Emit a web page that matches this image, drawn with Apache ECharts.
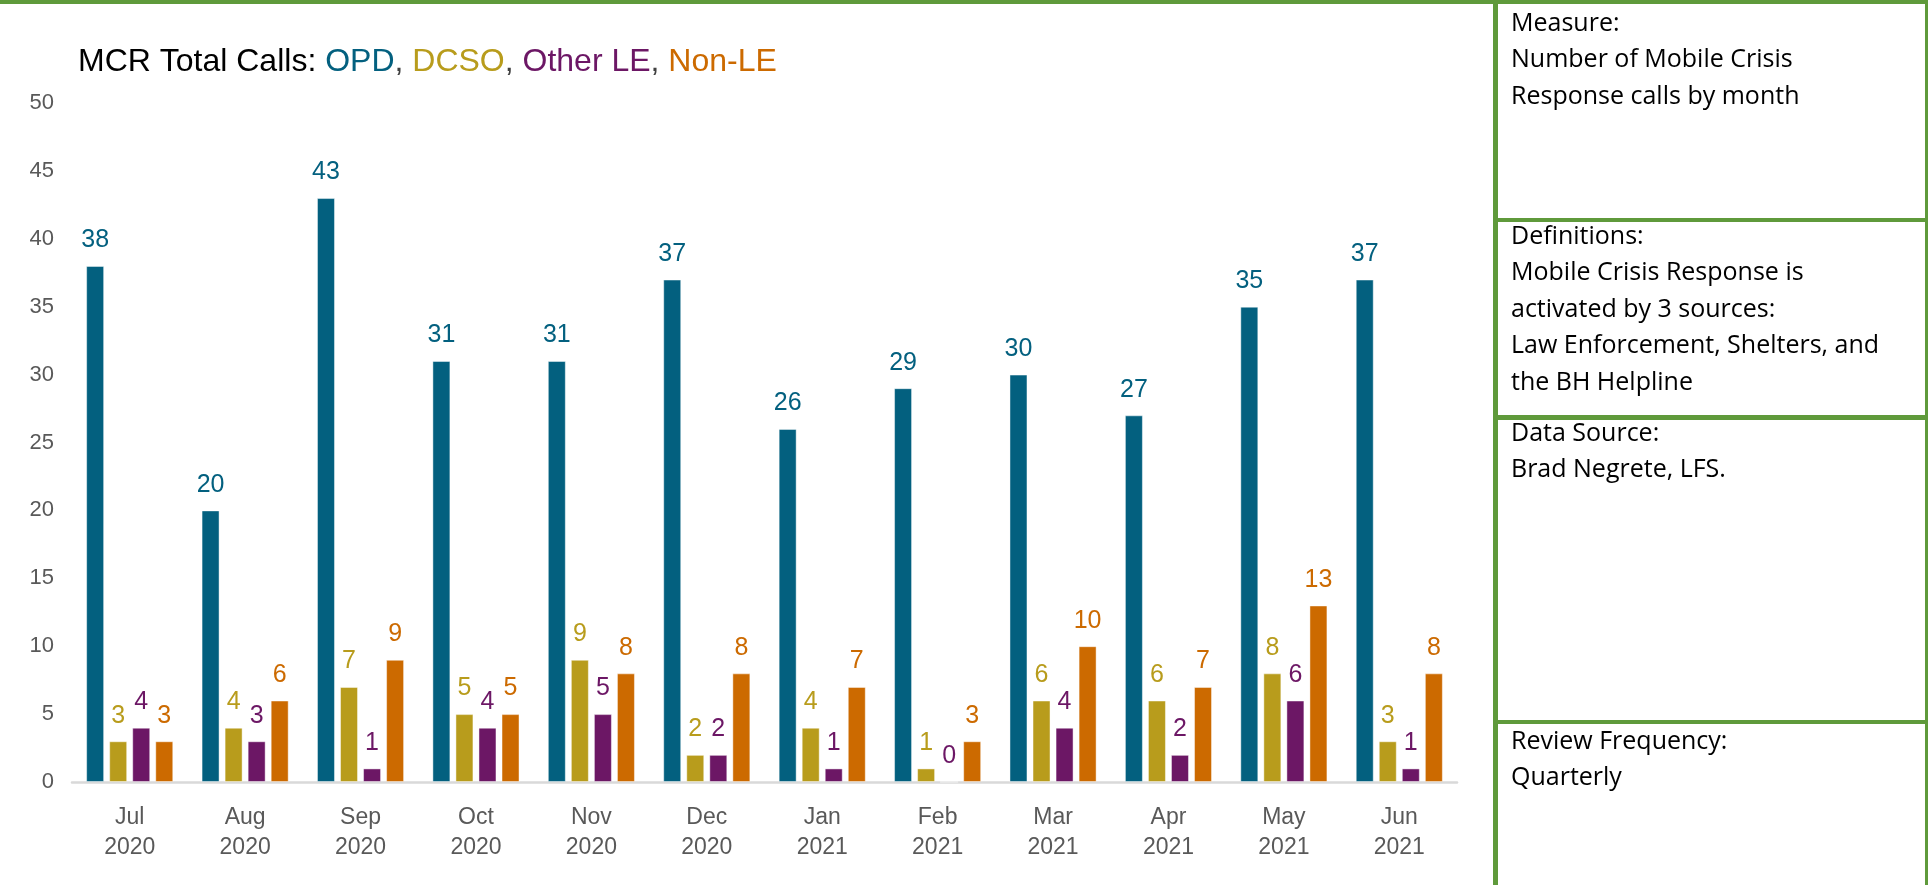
<!DOCTYPE html>
<html>
<head>
<meta charset="utf-8">
<script src="https://cdn.jsdelivr.net/npm/echarts@6/dist/echarts.min.js"></script>
<style>
  html, body { margin: 0; padding: 0; background: #fff; }
  #chart { width: 1928px; height: 885px; }
</style>
</head>
<body>
<div id="chart"></div>
<script>
// months on the x axis
const months = ['Jul', 'Aug', 'Sep', 'Oct', 'Nov', 'Dec', 'Jan', 'Feb', 'Mar', 'Apr', 'May', 'Jun'];
const years = ['2020', '2020', '2020', '2020', '2020', '2020', '2021', '2021', '2021', '2021', '2021', '2021'];

// calls by source
const opd = [38, 20, 43, 31, 31, 37, 26, 29, 30, 27, 35, 37];
const dcso = [3, 4, 7, 5, 9, 2, 4, 1, 6, 6, 8, 3];
const otherLE = [4, 3, 1, 4, 5, 2, 1, 0, 4, 2, 6, 1];
const nonLE = [3, 6, 9, 5, 8, 8, 7, 3, 10, 7, 13, 8];

const yTicks = [0, 5, 10, 15, 20, 25, 30, 35, 40, 45, 50];

const colors = { opd: '#03607F', dcso: '#B89C1C', other: '#6C1765', nonle: '#CC6A00' };
const green = '#5F9A3B';
const font = 'Liberation Sans';
const panelFont = 'Open Sans';

const chart = echarts.init(document.getElementById('chart'));

const barSeries = (name, data, color) => ({
  name,
  type: 'bar',
  data,
  barWidth: 18,
  barGap: '28%',
  itemStyle: { color, borderColor: 'rgba(255,255,255,0.45)', borderWidth: 1 },
  label: {
    show: true,
    position: 'top',
    distance: 13,
    color,
    fontFamily: font,
    fontSize: 25
  }
});

const panelText = (top, text) => ({
  type: 'text',
  left: 1511,
  top,
  style: { text, fontFamily: panelFont, fontSize: 25, lineHeight: 36.5, fill: '#000' }
});

const titleStyle = (color) => ({ color, fontFamily: font, fontSize: 32, fontWeight: 'normal' });

chart.setOption({
  animation: false,
  title: {
    left: 73,
    top: 41,
    text: '{k|MCR Total Calls: }{a|OPD}{s|, }{b|DCSO}{s|, }{c|Other LE}{s|, }{d|Non-LE}',
    textStyle: {
      fontWeight: 'normal',
      rich: {
        k: titleStyle('#000'),
        s: titleStyle('#404040'),
        a: titleStyle(colors.opd),
        b: titleStyle(colors.dcso),
        c: titleStyle(colors.other),
        d: titleStyle(colors.nonle)
      }
    }
  },
  grid: { left: 72, right: 471, top: 103, bottom: 103 },
  xAxis: {
    type: 'category',
    data: months.map((m, i) => m + '\n' + years[i]),
    axisLine: { lineStyle: { color: '#D9D9D9', width: 2.5 } },
    axisTick: { show: false },
    axisLabel: { color: '#595959', fontFamily: font, fontSize: 23, lineHeight: 30, margin: 21 }
  },
  yAxis: {
    type: 'value',
    min: yTicks[0],
    max: yTicks[yTicks.length - 1],
    interval: 5,
    splitLine: { show: false },
    axisLine: { show: false },
    axisTick: { show: false },
    axisLabel: { color: '#595959', fontFamily: font, fontSize: 22, margin: 18 }
  },
  series: [
    barSeries('OPD', opd, colors.opd),
    barSeries('DCSO', dcso, colors.dcso),
    barSeries('Other LE', otherLE, colors.other),
    barSeries('Non-LE', nonLE, colors.nonle)
  ],
  graphic: [
    // green frame
    { type: 'rect', shape: { x: 0, y: 0, width: 1928, height: 4 }, style: { fill: green } },
    { type: 'rect', shape: { x: 1493, y: 0, width: 5, height: 885 }, style: { fill: green } },
    { type: 'rect', shape: { x: 1925, y: 0, width: 3, height: 885 }, style: { fill: green } },
    { type: 'rect', shape: { x: 1493, y: 218, width: 435, height: 4 }, style: { fill: green } },
    { type: 'rect', shape: { x: 1493, y: 415, width: 435, height: 5 }, style: { fill: green } },
    { type: 'rect', shape: { x: 1493, y: 720, width: 435, height: 4 }, style: { fill: green } },
    panelText(5.5, 'Measure:\nNumber of Mobile Crisis\nResponse calls by month'),
    panelText(218.5, 'Definitions:\nMobile Crisis Response is\nactivated by 3 sources:\nLaw Enforcement, Shelters, and\nthe BH Helpline'),
    panelText(415.5, 'Data Source:\nBrad Negrete, LFS.'),
    panelText(723.5, 'Review Frequency:\nQuarterly')
  ]
});

window.addEventListener('resize', () => chart.resize());
</script>
</body>
</html>
